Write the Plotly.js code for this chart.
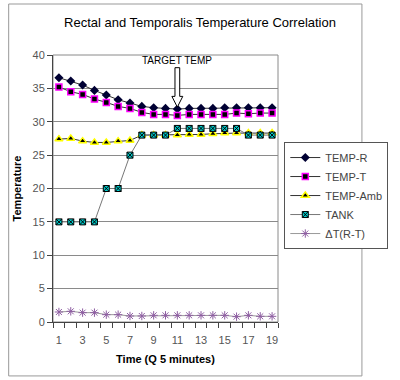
<!DOCTYPE html>
<html>
<head>
<meta charset="utf-8">
<script src="https://cdn.plot.ly/plotly-3.0.1.min.js"></script>
<style>html,body{margin:0;padding:0;background:#fff;}#chart{width:400px;height:380px;}</style>
</head>
<body>
<div id="chart"></div>
<script>
var time = [1,2,3,4,5,6,7,8,9,10,11,12,13,14,15,16,17,18,19];
var tickVals = [1,3,5,7,9,11,13,15,17,19];
var tickText = ["1","3","5","7","9","11","13","15","17","19"];
var tempR = [36.6,36.1,35.5,34.7,34.0,33.3,32.8,32.3,32.1,32.0,31.9,32.0,32.0,32.0,32.1,32.1,32.1,32.1,32.1];
var tempT = [35.2,34.5,34.1,33.4,32.9,32.3,32.0,31.4,31.1,31.1,30.95,31.1,31.1,31.1,31.1,31.3,31.2,31.3,31.3];
var tempAmb = [27.4,27.5,27.1,26.9,26.9,27.1,27.2,28.0,28.0,28.0,28.0,28.1,28.1,28.2,28.3,28.3,28.3,28.3,28.3];
var tank = [15,15,15,15,20,20,25,28,28,28,29,29,29,29,29,29,28,28,28];
var deltaT = [1.5,1.6,1.4,1.4,1.1,1.1,0.9,0.9,1.0,1.0,1.0,1.0,1.0,1.0,1.0,0.8,1.0,0.85,0.85];
var targetX = 11;

var traces = [
  {x: time, y: tempR, name: 'TEMP-R', mode: 'lines+markers',
   line: {color: '#333333', width: 1},
   marker: {symbol: 'diamond', size: 7, color: '#000033', line: {color: '#000033', width: 0}}},
  {x: time, y: tempT, name: 'TEMP-T', mode: 'lines+markers',
   line: {color: '#333333', width: 1},
   marker: {symbol: 'square', size: 6, color: '#000000', line: {color: '#FF00FF', width: 1.5}}},
  {x: time, y: tempAmb, name: 'TEMP-Amb', mode: 'lines+markers',
   line: {color: '#333333', width: 1},
   marker: {symbol: 'triangle-up', size: 7, color: '#000000', line: {color: '#FFFF00', width: 1.5}}},
  {x: time, y: tank, name: 'TANK', mode: 'lines+markers',
   line: {color: '#777777', width: 1},
   marker: {symbol: 'square-x', size: 6, color: '#00CCCC', line: {color: '#000000', width: 1}}},
  {x: time, y: deltaT, name: '\u0394T(R-T)', mode: 'lines+markers',
   line: {color: '#999999', width: 1},
   marker: {symbol: 'asterisk-open', size: 7, color: '#8e5ea2', line: {color: '#8e5ea2', width: 1}}}
];

var layout = {
  width: 400, height: 380,
  paper_bgcolor: '#ffffff', plot_bgcolor: '#ffffff',
  margin: {l: 53, r: 98, t: 55, b: 58},
  font: {family: 'Arial, Liberation Sans, sans-serif', size: 11, color: '#333'},
  title: {text: 'Rectal and Temporalis Temperature Correlation', font: {size: 13, color: '#000'},
          x: 0.5, xref: 'container', y: 1 - 22/380, yref: 'container', yanchor: 'middle'},
  showlegend: true,
  legend: {x: 1.028, xanchor: 'left', y: 0.674, yanchor: 'top',
           bgcolor: '#fff', bordercolor: '#555', borderwidth: 1,
           font: {size: 11, color: '#444'}, tracegroupgap: 0, itemwidth: 30},
  xaxis: {range: [0.5, 19.5], tickmode: 'array', tickvals: tickVals, ticktext: tickText,
          ticks: 'outside', ticklen: 5, tickcolor: 'rgba(0,0,0,0)', ticklabelstandoff: 3,
          minor: {tickmode: 'array', tickvals: [0.5,1.5,2.5,3.5,4.5,5.5,6.5,7.5,8.5,9.5,10.5,11.5,12.5,13.5,14.5,15.5,16.5,17.5,18.5,19.5],
                  ticks: 'outside', ticklen: 5, tickcolor: '#444', showgrid: false},
          showgrid: false, zeroline: false, showline: true, linecolor: '#444', linewidth: 1,
          tickfont: {size: 11, color: '#555'},
          title: {text: 'Time (Q 5 minutes)', font: {size: 11, color: '#000', weight: 'bold'}, standoff: 10}},
  yaxis: {range: [0, 40], tickmode: 'linear', tick0: 0, dtick: 5,
          ticks: 'outside', ticklen: 5, tickcolor: '#444',
          showgrid: true, gridcolor: '#8a8a8a', gridwidth: 1, zeroline: false,
          showline: true, linecolor: '#444', linewidth: 1,
          tickfont: {size: 11, color: '#555'},
          title: {text: 'Temperature', font: {size: 11, color: '#000', weight: 'bold'}, standoff: 8}},
  shapes: [
    {type: 'rect', xref: 'paper', yref: 'paper', x0: 0, x1: 1, y0: 0, y1: 1,
     line: {color: '#8a8a8a', width: 1}, fillcolor: 'rgba(0,0,0,0)', layer: 'below'},
    {type: 'rect', xref: 'paper', yref: 'paper', x0: -0.197, x1: 1.373, y0: -0.202, y1: 1.191,
     line: {color: '#999', width: 1}, fillcolor: 'rgba(0,0,0,0)', layer: 'below'},
    {type: 'path', xref: 'x', yref: 'y',
     path: 'M ' + (targetX-0.2) + ',38.1 L ' + (targetX+0.2) + ',38.1 L ' + (targetX+0.2) + ',33.8 L ' + (targetX+0.46) + ',33.8 L ' + targetX + ',32.2 L ' + (targetX-0.46) + ',33.8 L ' + (targetX-0.2) + ',33.8 Z',
     line: {color: '#000', width: 1}, fillcolor: '#fff', layer: 'above'}
  ],
  annotations: [
    {x: targetX, y: 39.2, xref: 'x', yref: 'y', text: 'TARGET TEMP', showarrow: false,
     font: {size: 10, color: '#000'}, xanchor: 'center', yanchor: 'middle'}
  ]
};

Plotly.newPlot('chart', traces, layout, {displayModeBar: false, staticPlot: true});
</script>
</body>
</html>
